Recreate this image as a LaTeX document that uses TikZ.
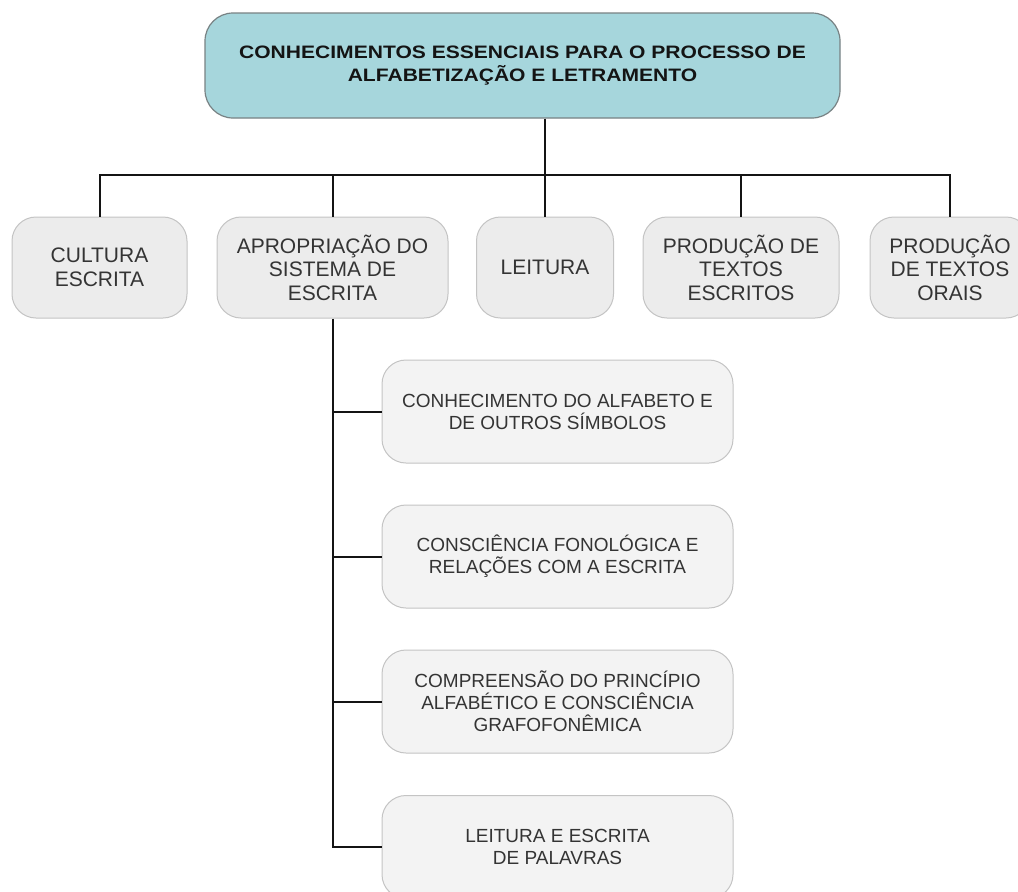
\documentclass[tikz,border=0pt]{standalone}
\usepackage{fontspec}
\setmainfont{Liberation Sans}
\newfontfamily\titlefont{Liberation Sans}[FakeStretch=1.17]
\definecolor{topfill}{RGB}{166,214,220}
\definecolor{topborder}{RGB}{120,130,132}
\definecolor{rowfill}{RGB}{236,236,236}
\definecolor{subfill}{RGB}{243,243,243}
\definecolor{boxborder}{RGB}{196,196,196}
\definecolor{linecol}{RGB}{20,20,20}
\definecolor{txt}{RGB}{52,52,52}
\tikzset{
  topbox/.style={draw=topborder, fill=topfill, rounded corners=28pt, line width=1.2pt,
    minimum width=635pt, minimum height=105pt, inner sep=0pt, align=center,
    font=\titlefont\bfseries\fontsize{18}{22.5}\selectfont, text=black!92},
  rowbox/.style={draw=boxborder, fill=rowfill, rounded corners=24pt, line width=1pt,
    minimum height=101pt, inner sep=0pt, align=center,
    font=\fontsize{21}{23.5}\selectfont, text=txt},
  subbox/.style={draw=boxborder, fill=subfill, rounded corners=24pt, line width=1pt,
    minimum width=351pt, minimum height=103pt, inner sep=0pt, align=center,
    font=\fontsize{19}{22}\selectfont, text=txt},
  conn/.style={draw=linecol, line width=2pt}
}
\begin{document}
\begin{tikzpicture}[x=1pt,y=-1pt]
\useasboundingbox (0,0) rectangle (1018,892);
\fill[white] (0,0) rectangle (1018,892);
% top
\node[topbox] (top) at (522.5,65.5) {CONHECIMENTOS ESSENCIAIS PARA O PROCESSO DE\\ALFABETIZAÇÃO E LETRAMENTO};
% row
\node[rowbox, minimum width=175pt] (cul) at (99.5,267.5) {CULTURA\\ESCRITA};
\node[rowbox, minimum width=231pt] (apr) at (332.5,267.5) {APROPRIAÇÃO DO\\SISTEMA DE\\ESCRITA};
\node[rowbox, minimum width=137pt] (lei) at (545,267.5) {LEITURA};
\node[rowbox, minimum width=196pt] (esc) at (741,267.5) {PRODUÇÃO DE\\TEXTOS\\ESCRITOS};
\node[rowbox, minimum width=160pt] (ora) at (950,267.5) {PRODUÇÃO\\DE TEXTOS\\ORAIS};
% sub
\node[subbox] (s1) at (557.5,411.5) {CONHECIMENTO DO ALFABETO E\\DE OUTROS SÍMBOLOS};
\node[subbox] (s2) at (557.5,556.5) {CONSCIÊNCIA FONOLÓGICA E\\RELAÇÕES COM A ESCRITA};
\node[subbox] (s3) at (557.5,701.5) {COMPREENSÃO DO PRINCÍPIO\\ALFABÉTICO E CONSCIÊNCIA\\GRAFOFONÊMICA};
\node[subbox] (s4) at (557.5,847) {LEITURA E ESCRITA\\DE PALAVRAS};
% connectors
\coordinate (bus) at (545,175);
\draw[conn] (top.south -| lei.north) -- (lei.north);
\draw[conn] (cul.north) |- (bus) -| (ora.north);
\draw[conn] (apr.north) -- (apr.north |- bus);
\draw[conn] (esc.north) -- (esc.north |- bus);
\draw[conn] (apr.south) |- (s4.west);
\draw[conn] (apr.south |- s1.west) -- (s1.west);
\draw[conn] (apr.south |- s2.west) -- (s2.west);
\draw[conn] (apr.south |- s3.west) -- (s3.west);
\end{tikzpicture}
\end{document}
